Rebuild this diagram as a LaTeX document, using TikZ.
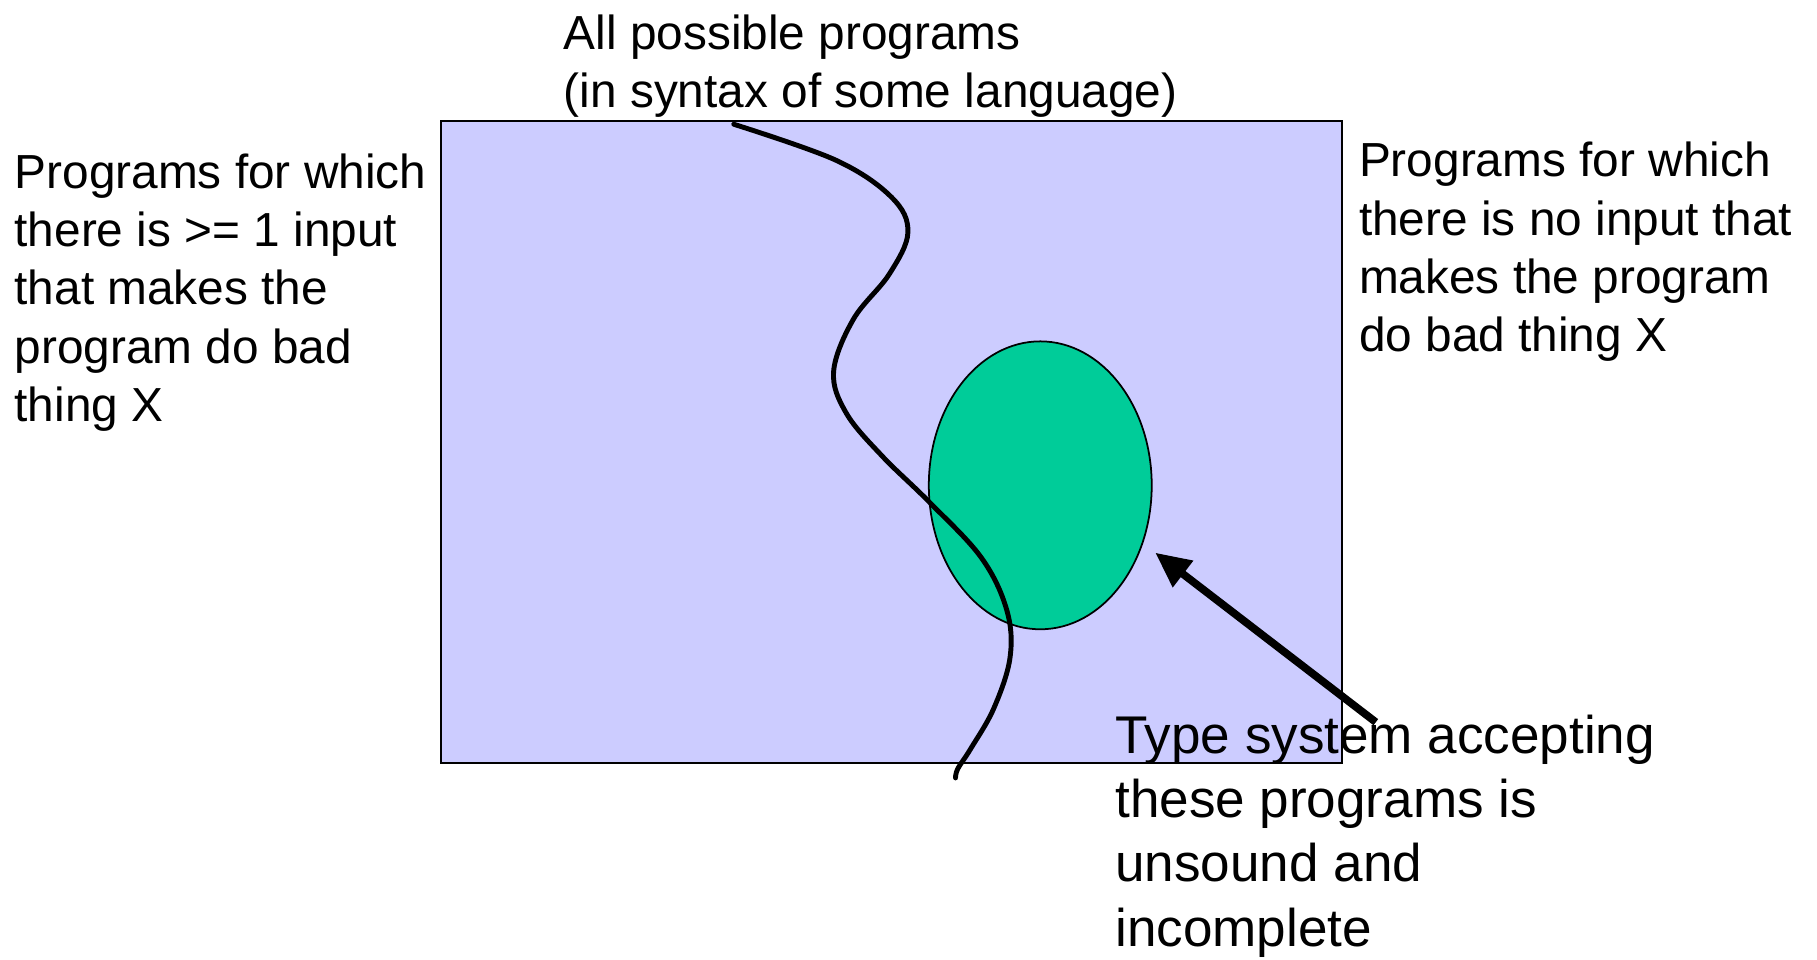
\documentclass[tikz,border=0pt]{standalone}
\usepackage{fontspec}
\setmainfont{Liberation Sans}
\usepackage{tikz}
\usetikzlibrary{arrows.meta}
\definecolor{lavande}{RGB}{204,204,255}
\definecolor{vertd}{RGB}{0,204,153}
\begin{document}
\begin{tikzpicture}[x=0.01161cm,y=-0.01161cm,
  txt/.style={anchor=base west,inner sep=0,align=left,font=\fontsize{13.6}{16.6}\selectfont},
  bigtxt/.style={txt,font=\fontsize{15.1}{18.3}\selectfont}]
\useasboundingbox (0,0) rectangle (1565,826);
\filldraw[fill=lavande, line width=0.5pt] (380,104) rectangle (1156,657);
\filldraw[fill=vertd, line width=0.5pt] (896,418) ellipse [x radius=96,y radius=124];
\draw [line width=1.4pt, line cap=round] plot [smooth,tension=0.6] coordinates {(632,107) (720,138) (768,170) (782,200) (766,236) (735,275) (718,320) (729,356) (760,393) (800,432) (845,480) (867,525) (870,566) (856,610) (836,645) (825,662) (823,670)};
\draw [line width=2.2pt,-{Triangle[length=10pt,width=9pt]}] (1185,622) -- (995,476);

% base = baseline of the last line
\node[txt] (top) at (485,93) {All possible programs\\(in syntax of some language)};
\node[txt] (left) at (12,363) {Programs for which\\there is >= 1 input\\that makes the\\program do bad\\thing X};
\node[txt] (right) at (1170,303) {Programs for which\\there is no input that\\makes the program\\do bad thing X};
\node[bigtxt] (bottom) at (960,815) {Type system accepting\\these programs is\\unsound and\\incomplete};
\end{tikzpicture}
\end{document}
